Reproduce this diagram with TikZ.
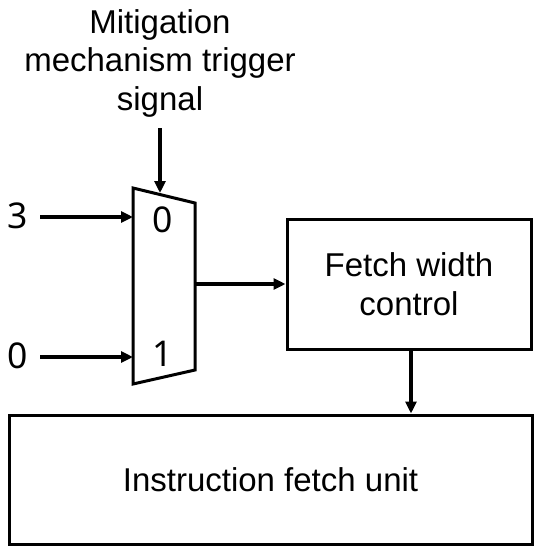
\documentclass[tikz,border=0pt]{standalone}
\usepackage{fontspec}
\setmainfont{Liberation Sans}
\newfontfamily\digitfont{Noto Sans}
\usetikzlibrary{arrows.meta}
\begin{document}
\begin{tikzpicture}[x=1pt,y=-1pt,
  wire/.style={line width=3.2pt,-{Triangle[length=12pt,width=11pt]}},
  blockbox/.style={draw,line width=3pt,inner sep=0pt,align=center,font=\fontsize{33}{38.5}\selectfont},
  lbl/.style={inner sep=0pt,font=\fontsize{33}{38.5}\selectfont,align=center},
  dig/.style={inner sep=0pt,font=\digitfont\fontsize{35.5}{38}\selectfont}]
\useasboundingbox (0,0) rectangle (541,550);
% text
\node[lbl] (sig) at (160,63) {Mitigation\\mechanism trigger\\signal};
% mux
\coordinate (mtl) at (133,188);
\coordinate (mtr) at (195,203);
\coordinate (mbr) at (195,370);
\coordinate (mbl) at (133,384);
\draw[line width=3pt,line join=miter] (mtl) -- (mtr) -- (mbr) -- (mbl) -- cycle;
\coordinate (min0) at (133,217);
\coordinate (min1) at (133,357);
\coordinate (msel) at (160,193);
\coordinate (mout) at (195,284);
\node[dig] (d0) at (162.2,220.3) {0};
\node[dig] (d1) at (162.5,353.5) {1};
% inputs
\node[dig] (in3) at (17.5,215.8) {3};
\node[dig] (in0) at (17.7,356) {0};
\coordinate (s3) at (40,217);
\coordinate (s0) at (40,357);
% boxes
\node[blockbox,minimum width=244pt,minimum height=130pt] (fetch) at (409,284) {Fetch width\\control};
\node[blockbox,minimum width=523pt,minimum height=129pt] (ifu) at (270.5,479.5) {Instruction fetch unit};
% connectors
\draw[wire] (s3) -- (min0);
\draw[wire] (s0) -- (min1);
\draw[wire,shorten <=11pt] (sig.south -| msel) -- (msel);
\draw[wire] (mout) -- (fetch.west);
\draw[wire] ([xshift=2pt]fetch.south) -- ([xshift=2pt]fetch.south |- ifu.north);
\end{tikzpicture}
\end{document}
